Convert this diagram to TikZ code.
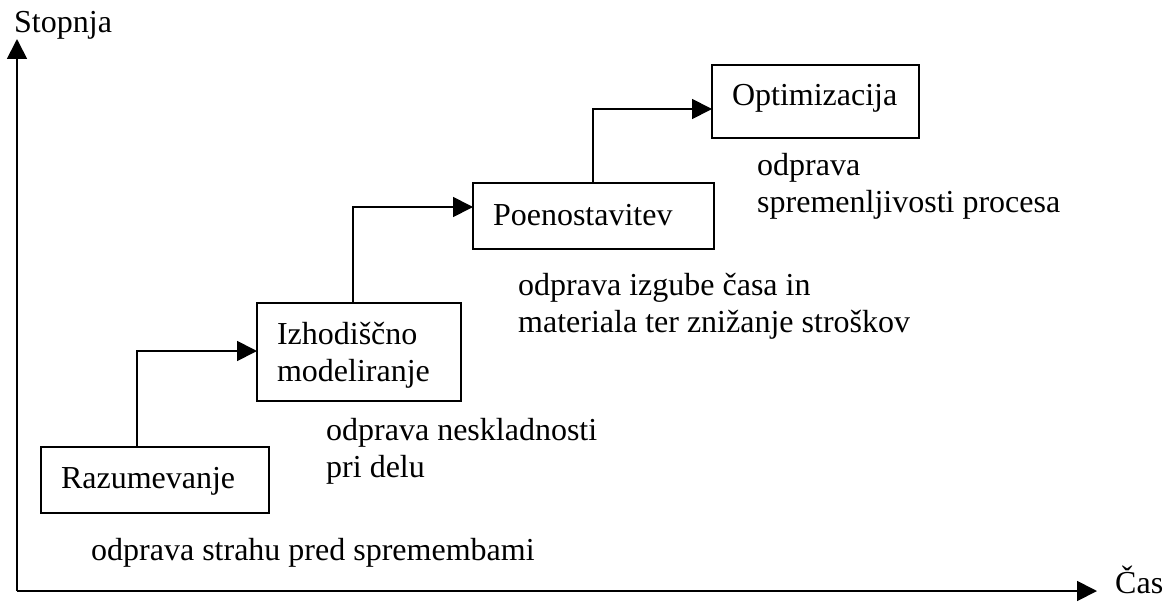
\documentclass[tikz,border=0pt]{standalone}
\usepackage{fontspec}
\setmainfont{Liberation Serif}
\usetikzlibrary{arrows.meta}
\begin{document}
\begin{tikzpicture}[x=1pt,y=-1pt,
  every node/.style={font=\fontsize{32}{37}\selectfont},
  box/.style={draw,line width=1.8pt,align=left,inner xsep=20pt,inner ysep=0pt,outer sep=0pt,anchor=north west},
  lbl/.style={inner sep=0pt,align=left,anchor=base west},
  axis/.style={line width=1.8pt,-{Triangle[length=20pt,width=20pt]}},
  conn/.style={line width=1.8pt,-{Triangle[length=20pt,width=20pt]}}]
\useasboundingbox (0,0) rectangle (1169,610);
% boxes
\node[box,text width=188pt,text height=41pt,text depth=25pt] (R) at (41,447) {Razumevanje};
\node[box,text width=164pt,text height=41pt,text depth=57pt] (I) at (257,303) {Izhodiščno\\modeliranje};
\node[box,text width=201pt,text height=42pt,text depth=24pt] (P) at (473,183) {Poenostavitev};
\node[box,text width=167pt,text height=40pt,text depth=33pt] (O) at (712,65) {Optimizacija};
% axes
\coordinate (o) at (17,591);
\coordinate (yt) at (17,39);
\coordinate (xt) at (1097,591);
\draw[axis] (o) -- (yt);
\draw[axis] (o) -- (xt);
\node[lbl] (ylab) at (14,33) {Stopnja};
\node[lbl] (xlab) at (1115,593) {Čas};
% connectors
\coordinate (k1) at (137,351);
\coordinate (k2) at (353,207);
\coordinate (k3) at (593,109);
\draw[conn] (R.north -| k1) |- (I.west |- k1);
\draw[conn] (I.north -| k2) |- (P.west |- k2);
\draw[conn] (P.north -| k3) |- (O.west |- k3);
% labels
\node[lbl] (t1) at (91,560) {odprava strahu pred spremembami};
\node[lbl] (t2) at (326,477) {odprava neskladnosti\\pri delu};
\node[lbl] (t3) at (518,332) {odprava izgube časa in\\materiala ter znižanje stroškov};
\node[lbl] (t4) at (757,212) {odprava\\spremenljivosti procesa};
\end{tikzpicture}
\end{document}
